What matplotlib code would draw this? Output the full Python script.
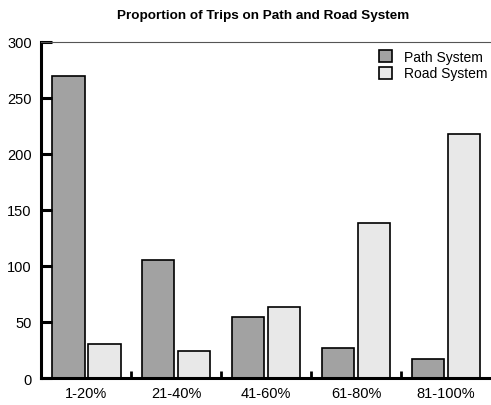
import numpy as np
import matplotlib
matplotlib.use("Agg")
import matplotlib.pyplot as plt

plt.rcParams['font.family'] = ['Liberation Sans', 'DejaVu Sans']

categories = ["1-20%", "21-40%", "41-60%", "61-80%", "81-100%"]
path_system = [269, 105, 54, 27, 17]
road_system = [30, 24, 63, 138, 218]
y_ticks = [0, 50, 100, 150, 200, 250, 300]

fig = plt.figure(figsize=(4.91, 4.06), dpi=100)
ax = fig.add_axes([0.0845, 0.0665, 0.915, 0.8283])

idx = np.arange(len(categories))
ax.bar(idx + 0.3, path_system, width=0.36, color='#a2a2a2',
       edgecolor='black', linewidth=1.2, label='Path System')
ax.bar(idx + 0.7, road_system, width=0.36, color='#e8e8e8',
       edgecolor='black', linewidth=1.2, label='Road System')

ax.set_xlim(0, len(categories))
ax.set_ylim(0, 300)

# category labels centred, separator ticks between groups
ax.set_xticks(idx + 0.5)
ax.set_xticklabels(categories, fontsize=10.5)
ax.tick_params(axis='x', which='major', length=0, pad=6)
ax.set_xticks(idx[1:], minor=True)
ax.tick_params(axis='x', which='minor', direction='in', length=5, width=2)

ax.set_yticks(y_ticks)
ax.tick_params(axis='y', direction='in', length=8, width=2.2, labelsize=10.5, pad=7)

ax.spines['left'].set_linewidth(2.2)
ax.spines['bottom'].set_linewidth(2.2)
ax.spines['top'].set_linewidth(0.8)
ax.spines['top'].set_color('#555555')
ax.spines['right'].set_visible(False)

ax.legend(loc='upper right', bbox_to_anchor=(1.0, 0.985), frameon=False,
          fontsize=10, handlelength=0.95, handleheight=0.95,
          handletextpad=0.9, labelspacing=0.2, borderpad=0.2,
          borderaxespad=0)

fig.suptitle('Proportion of Trips on Path and Road System', fontsize=9.7,
             fontweight='bold', x=0.535, y=0.975)

fig.savefig('out.png', dpi=100)
